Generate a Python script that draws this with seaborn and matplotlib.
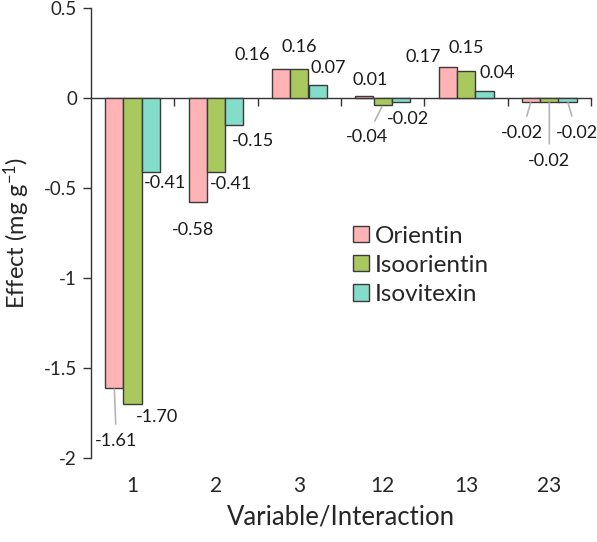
import matplotlib
matplotlib.use('Agg')
import matplotlib.pyplot as plt
import pandas as pd
import seaborn as sns

# Values.
variables = ['1', '2', '3', '12', '13', '23']
orientin = [-1.61, -0.58, 0.16, 0.01, 0.17, -0.02]
isoorientin = [-1.70, -0.41, 0.16, -0.04, 0.15, -0.02]
isovitexin = [-0.41, -0.15, 0.07, -0.02, 0.04, -0.02]
compounds = ['Orientin', 'Isoorientin', 'Isovitexin']

colors = ['#ffb3b5', '#a9c85e', '#84dccb']

# Label placement (pixel offsets from bar end, leader line flag).
label_offsets = [
    [(2, -53, True), (-5, -28, False), (-29, 14, False),
     (6, 16, False), (-24, 10, False), (-9, -31, True)],
    [(24, -13, False), (15, -12, False), (0, 22, False),
     (-16, -32, True), (0, 23, False), (0, -59, True)],
    [(14, -11, False), (19, -16, False), (11, 17, False),
     (7, -17, False), (13, 18, False), (9, -31, True)],
]

sns.set_style('ticks')
plt.rcParams['font.family'] = ['Lato', 'DejaVu Sans']
plt.rcParams['axes.unicode_minus'] = False
plt.rcParams['mathtext.fontset'] = 'custom'
plt.rcParams['mathtext.rm'] = 'Lato'
plt.rcParams['mathtext.it'] = 'Lato:italic'

df = pd.DataFrame({
    'Variable': variables * 3,
    'Effect': orientin + isoorientin + isovitexin,
    'Compound': [c for c in compounds for _ in variables],
})

fig, ax = plt.subplots(figsize=(5.97, 5.42), dpi=100)
fig.subplots_adjust(left=91 / 597, right=591 / 597,
                    bottom=1 - 458 / 542, top=1 - 8 / 542)

sns.barplot(data=df, x='Variable', y='Effect', hue='Compound',
            palette=colors, width=0.66, saturation=1,
            edgecolor='#3a3a3a', linewidth=1, ax=ax)

ax.set_ylim(-2, 0.5)
ax.set_xlim(-0.5, len(variables) - 0.5)
ax.set_yticks([0.5, 0, -0.5, -1, -1.5, -2])
ax.set_yticklabels(['{:g}'.format(v) for v in [0.5, 0, -0.5, -1, -1.5, -2]])
ax.tick_params(axis='y', direction='out', length=6, width=1,
               color='#333333', labelsize=13.5, pad=4)
ax.tick_params(axis='x', length=0, labelsize=15, pad=13)

for s in ['top', 'right', 'bottom']:
    ax.spines[s].set_visible(False)
ax.spines['left'].set_color('#333333')
ax.spines['left'].set_linewidth(1)

# zero line with category boundary ticks
zero_ax = ax.secondary_xaxis(0, transform=ax.transData)
zero_ax.set_xticks([i + 0.5 for i in range(len(variables))])
zero_ax.tick_params(direction='out', length=6, width=1, color='#333333',
                    labelbottom=False)
zero_ax.spines['bottom'].set_color('#333333')
zero_ax.spines['bottom'].set_linewidth(1)

ax.set_xlabel('Variable/Interaction', fontsize=18.5, labelpad=6)
ax.set_ylabel('Effect (mg g$^{-1}$)', fontsize=17)
ax.yaxis.set_label_coords(-0.118, 0.5)

series = [orientin, isoorientin, isovitexin]
for j, container in enumerate(ax.containers):
    for i, bar in enumerate(container):
        cx = bar.get_x() + bar.get_width() / 2
        val = series[j][i]
        dx, dy, leader = label_offsets[j][i]
        props = None
        if leader:
            props = dict(arrowstyle='-', color='#b4b4b4', lw=1.2,
                         shrinkA=4, shrinkB=1)
        ax.annotate('{:.2f}'.format(val), xy=(cx, val), xytext=(dx, dy),
                    textcoords='offset pixels', ha='center', va='center',
                    fontsize=13, color='#1a1a1a', arrowprops=props,
                    annotation_clip=False)

handles, labels = ax.get_legend_handles_labels()
ax.legend(handles, labels, loc='upper left', bbox_to_anchor=(0.524, 0.516),
          frameon=False, fontsize=17.5, handlelength=0.66, handleheight=0.66,
          handletextpad=0.25, labelspacing=0.33, borderpad=0, borderaxespad=0)

fig.savefig('out.png', dpi=100)
